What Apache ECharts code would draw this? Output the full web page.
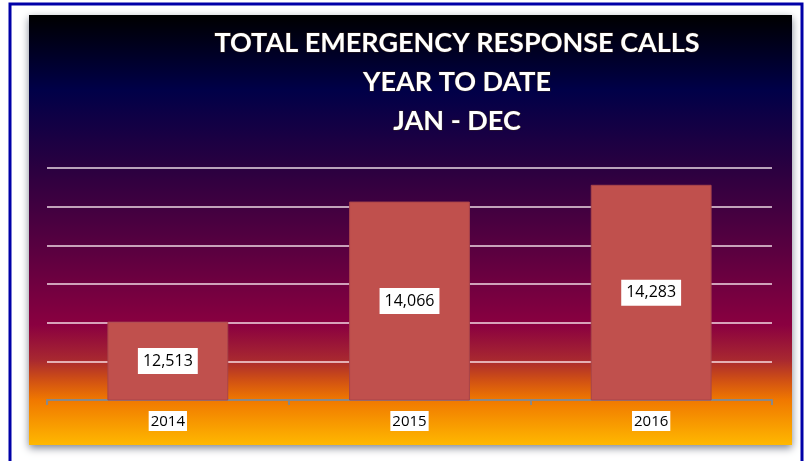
<!DOCTYPE html>
<html>
<head>
<meta charset="utf-8">
<script src="https://cdn.jsdelivr.net/npm/echarts@6/dist/echarts.min.js"></script>
<style>
  html, body { margin: 0; padding: 0; background: #fff; }
  #chart { width: 812px; height: 461px; }
</style>
</head>
<body>
<div id="chart"></div>
<script>
const years = ['2014', '2015', '2016'];
const calls = [12513, 14066, 14283];
const titleLines = ['TOTAL EMERGENCY RESPONSE CALLS', 'YEAR TO DATE', 'JAN - DEC'];

const chart = echarts.init(document.getElementById('chart'));

// panel background: black -> navy -> purple -> maroon -> orange
const panelFill = new echarts.graphic.LinearGradient(0, 0, 0, 1, [
  { offset: 0, color: '#000000' },
  { offset: 0.174, color: '#000048' },
  { offset: 0.356, color: '#2a0040' },
  { offset: 0.547, color: '#5a0040' },
  { offset: 0.721, color: '#8a0040' },
  { offset: 0.802, color: '#a82830' },
  { offset: 0.849, color: '#d05014' },
  { offset: 0.895, color: '#f07800' },
  { offset: 1, color: '#ffb800' }
]);

chart.setOption({
  backgroundColor: '#ffffff',
  animation: false,
  graphic: [
    {
      type: 'rect',
      z: -10,
      shape: { x: 10, y: 4, width: 792, height: 470 },
      style: { fill: '#ffffff', stroke: '#0000a8', lineWidth: 3 }
    },
    {
      type: 'rect',
      z: -5,
      shape: { x: 29, y: 15, width: 763, height: 430 },
      style: {
        fill: panelFill,
        shadowBlur: 8,
        shadowOffsetY: 3,
        shadowColor: 'rgba(40,50,70,0.6)'
      }
    }
  ],
  title: {
    text: titleLines.join('\n'),
    left: 452,
    top: 19,
    textAlign: 'center',
    textStyle: {
      color: '#ffffff',
      fontFamily: 'Lato',
      fontWeight: 'bold',
      fontSize: 27,
      lineHeight: 39,
      textBorderColor: 'rgba(60,40,20,0.8)',
      textBorderWidth: 1
    }
  },
  grid: {
    left: 47,
    right: 40,
    top: 168,
    bottom: 61
  },
  xAxis: {
    type: 'category',
    data: years,
    axisLine: { lineStyle: { color: '#888888', width: 2 } },
    axisTick: { show: true, length: 5, lineStyle: { color: '#888888', width: 2 } },
    axisLabel: {
      margin: 11,
      color: '#000000',
      fontFamily: 'Open Sans',
      fontSize: 15,
      backgroundColor: '#ffffff',
      padding: [3, 2, 2, 2]
    }
  },
  yAxis: {
    type: 'value',
    min: 11500,
    max: 14500,
    interval: 500,
    axisLabel: { show: false },
    axisLine: { show: false },
    axisTick: { show: false },
    splitLine: { lineStyle: { color: 'rgba(255,240,245,0.9)', width: 1.5 } }
  },
  series: [
    {
      type: 'bar',
      data: calls,
      barWidth: '50%',
      itemStyle: {
        color: '#c0504d',
        borderColor: '#a8444a',
        borderWidth: 1
      },
      label: {
        show: true,
        position: 'inside',
        color: '#000000',
        fontFamily: 'Open Sans',
        fontSize: 16,
        backgroundColor: '#ffffff',
        padding: [6, 5, 4, 5],
        formatter: p => p.value.toLocaleString('en-US')
      }
    }
  ]
});
</script>
</body>
</html>
